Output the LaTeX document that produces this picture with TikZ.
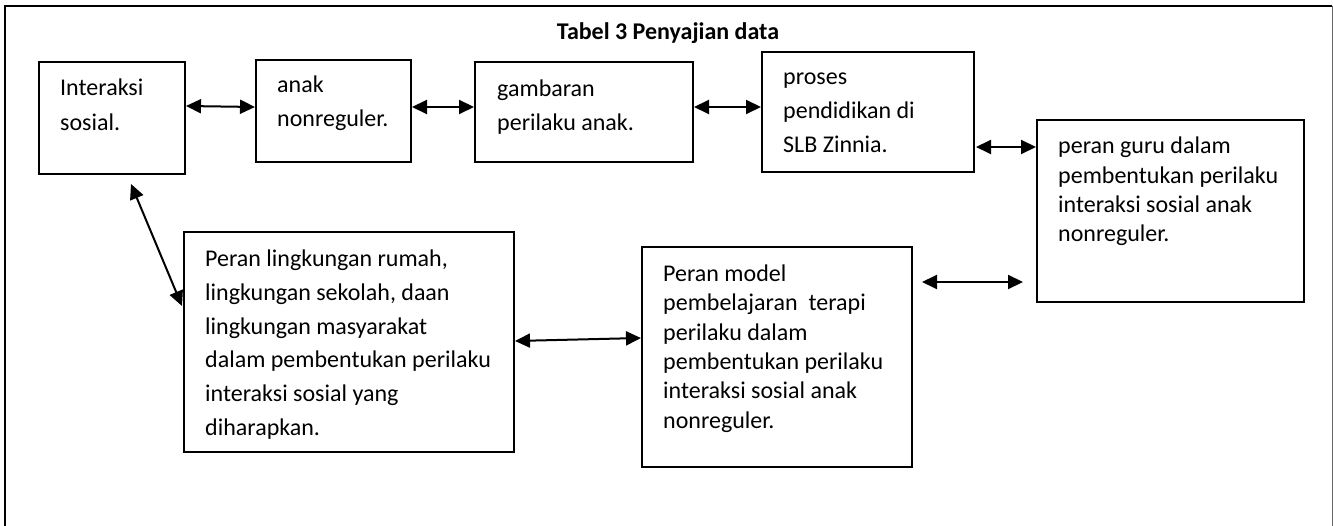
\documentclass[tikz,border=0pt]{standalone}
\usepackage{fontspec}
\setmainfont{Carlito}
\usetikzlibrary{arrows.meta,calc}
\newcommand{\mylines}[2]{\fontsize{24}{#1}\selectfont\begin{tabular}[t]{@{}l@{}}#2\end{tabular}}
\tikzset{
  box/.style={draw=black, line width=2pt, rectangle, inner sep=0pt, fill=none},
  txt/.style={inner sep=0pt, anchor=base west, align=left},
  arr/.style={line width=2pt, {Triangle[length=15pt,width=14pt]}-{Triangle[length=15pt,width=14pt]}},
  frame/.style={line width=2pt, black},
}
\begin{document}
\begin{tikzpicture}[x=1pt,y=-1pt]
\useasboundingbox (0,0) rectangle (1333,526);
% outer frame (open at bottom)
\coordinate (fbl) at (5,526);
\coordinate (ftl) at (5,6);
\coordinate (ftr) at (1332,6);
\coordinate (fbr) at (1332,526);
\draw[frame] (fbl) -- (ftl) -- (ftr);
\draw[line width=1pt, black!60] (ftr) -- (fbr);
% title
\node[inner sep=0pt, anchor=base] (title) at (668,39.5) {\fontsize{24}{28}\selectfont\bfseries Tabel 3 Penyajian data};
% boxes
\node[box, minimum width=146pt, minimum height=112pt] (b1) at (112,118) {};
\node[box, minimum width=155pt, minimum height=102pt] (b2) at (333.5,111) {};
\node[box, minimum width=218pt, minimum height=100pt] (b3) at (584,112) {};
\node[box, minimum width=212pt, minimum height=120pt] (b4) at (868,112) {};
\node[box, minimum width=267pt, minimum height=182pt] (b5) at (1170.5,211) {};
\node[box, minimum width=330pt, minimum height=220pt] (b6) at (349,342) {};
\node[box, minimum width=270pt, minimum height=220pt] (b7) at (777,357) {};
% texts
\node[txt] (t1) at (60,95.7) {\mylines{34.5}{Interaksi\\sosial.}};
\node[txt] (t2) at (277,93) {\mylines{34}{anak\\nonreguler.}};
\node[txt] (t3) at (497,97) {\mylines{33.5}{gambaran\\perilaku anak.}};
\node[txt] (t4) at (783,85) {\mylines{34}{proses\\pendidikan di\\SLB Zinnia.}};
\node[txt] (t5) at (1058,154) {\mylines{29.3}{peran guru dalam\\pembentukan perilaku\\interaksi sosial anak\\nonreguler.}};
\node[txt] (t6) at (205,266.7) {\mylines{33.7}{Peran lingkungan rumah,\\lingkungan sekolah, daan\\lingkungan masyarakat\\dalam pembentukan perilaku\\interaksi sosial yang\\diharapkan.}};
\node[txt] (t7) at (663,281.7) {\mylines{29.3}{Peran model\\pembelajaran\ \ terapi\\perilaku dalam\\pembentukan perilaku\\interaksi sosial anak\\nonreguler.}};
% connectors
\draw[arr] ($(b1.north east)+(0,45)$) -- ($(b2.north west)+(0,48)$);
\draw[arr] ($(b2.north east)+(0,48)$) -- ($(b3.north west)+(0,46)$);
\draw[arr] ($(b3.north east)+(0,46)$) -- ($(b4.north west)+(0,56)$);
\draw[arr] ($(b4.north east)+(1,96)$) -- ($(b5.north west)+(0,28)$);
\draw[arr] ($(b1.south west)+(93,9)$) -- ($(b6.north west)+(-1,75)$);
\draw[arr] ($(b6.north east)+(0,110)$) -- ($(b7.north west)+(0,92)$);
\coordinate (fa) at (922,282);
\coordinate (fb) at (1023,282);
\draw[arr] (fa) -- (fb);
\end{tikzpicture}
\end{document}
